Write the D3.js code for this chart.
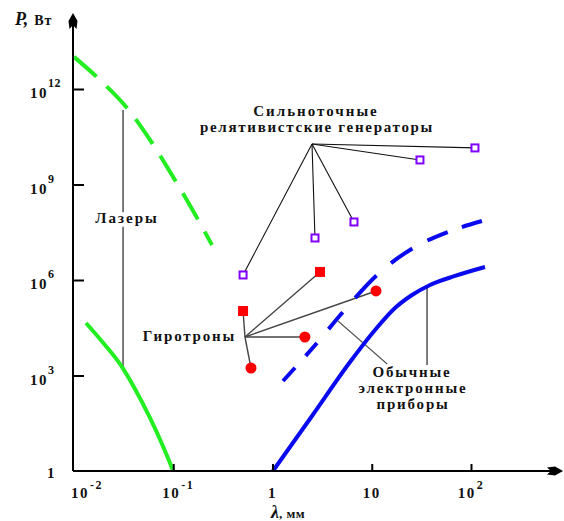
<!DOCTYPE html>
<html><head><meta charset="utf-8">
<script src="https://cdn.jsdelivr.net/npm/d3@7"></script>
<style>
body{margin:0;background:#fff}
svg text{font-family:"Liberation Serif","Times New Roman","DejaVu Serif",serif;font-weight:bold;fill:#111}
</style>
</head><body>
<svg id="c" width="564" height="521"></svg>
<script>
// ---- data (wavelength, mm ; power, W) ----
const laserHighX = [0.01, 0.01828, 0.0342, 0.05834, 0.0970, 0.1545, 0.2455];
const laserHighY = [1.02e13, 1.92e12, 2.54e11, 2.51e10, 1.99e9, 1.70e8, 1.26e7];
const laserLowX  = [0.01321, 0.02051, 0.02904, 0.04117, 0.05834, 0.07705, 0.1];
const laserLowY  = [4.47e4, 9.10e3, 2.30e3, 377, 46.3, 7.05, 1];
const elecX  = [1.01, 2.50, 6.04, 10.79, 17.14, 25.45, 38.65, 69.0, 138.4];
const elecY  = [1, 53.5, 2657, 2.69e4, 1.32e5, 3.38e5, 6.98e5, 1.34e6, 2.56e6];
const elecDashX = [1.276, 2.805, 5.13, 11.30, 26.06, 58.6, 129];
const elecDashY = [673, 1.05e4, 9.89e4, 1.44e6, 1.01e7, 3.23e7, 7.14e7];
const relX = [0.505, 2.68, 6.62, 30.6, 109.6];
const relY = [1.44e6, 2.09e7, 6.65e7, 5.90e9, 1.41e10];
const gyroSqX = [0.505, 3.01];
const gyroSqY = [1.06e5, 1.79e6];
const gyroCirX = [0.607, 2.12, 11.04];
const gyroCirY = [1.72e3, 1.62e4, 4.52e5];
const xTickValues = [0.01, 0.1, 1, 10, 100];
const xTickBase = ["10", "10", "1", "10", "10"];
const xTickExp  = ["-2", "-1", "", "", "2"];
const yTickValues = [1, 1e3, 1e6, 1e9, 1e12];
const yTickBase = ["1", "10", "10", "10", "10"];
const yTickExp  = ["", "3", "6", "9", "12"];

const FONT = "'Liberation Serif', 'Times New Roman', 'DejaVu Serif', serif";
const svg = d3.select("#c");
const x = d3.scaleLog().domain([0.01, 100]).range([74, 471]);
const y = d3.scaleLog().domain([1, 1e12]).range([471, 89]);
const zip = (a, b) => a.map((v, i) => [v, b[i]]);
const line = d3.line().x(d => x(d[0])).y(d => y(d[1])).curve(d3.curveMonotoneX);

// ---- leader lines (drawn beneath markers) ----
const lead = svg.append("g").attr("fill", "none");
const relHub = [2.50, 1.88e10];
relX.forEach((v, i) => lead.append("line")
  .attr("x1", x(relHub[0])).attr("y1", y(relHub[1]))
  .attr("x2", x(v)).attr("y2", y(relY[i]))
  .attr("stroke", "#111").attr("stroke-width", 1.1));
const gyroHub = [0.528, 1.62e4];
zip(gyroSqX, gyroSqY).concat(zip(gyroCirX, gyroCirY)).forEach(p => lead.append("line")
  .attr("x1", x(gyroHub[0])).attr("y1", y(gyroHub[1]))
  .attr("x2", x(p[0])).attr("y2", y(p[1]))
  .attr("stroke", "#444").attr("stroke-width", 1.4));
lead.append("line").attr("x1", x(0.0312)).attr("x2", x(0.0312))
  .attr("y1", y(2.19e11)).attr("y2", y(1.72e3)).attr("stroke", "#111").attr("stroke-width", 1.1);
lead.append("line").attr("x1", x(36.06)).attr("x2", x(36.06))
  .attr("y1", y(6.2e5)).attr("y2", y(2.14e3)).attr("stroke", "#111").attr("stroke-width", 1.1);
lead.append("line").attr("x1", x(4.57)).attr("y1", y(5.16e4))
  .attr("x2", x(14.3)).attr("y2", y(2.30e3)).attr("stroke", "#555").attr("stroke-width", 1.1);

// ---- curves ----
svg.append("path").attr("d", line(zip(laserHighX, laserHighY)))
  .attr("fill", "none").attr("stroke", "#22ee22").attr("stroke-width", 4)
  .attr("stroke-dasharray", "30,14");
svg.append("path").attr("d", line(zip(laserLowX, laserLowY)))
  .attr("fill", "none").attr("stroke", "#22ee22").attr("stroke-width", 4);
svg.append("path").attr("d", line(zip(elecX, elecY)))
  .attr("fill", "none").attr("stroke", "#0a0aee").attr("stroke-width", 4);
svg.append("path").attr("d", line(zip(elecDashX, elecDashY)))
  .attr("fill", "none").attr("stroke", "#0a0aee").attr("stroke-width", 4)
  .attr("stroke-dasharray", "18,16,17,18,22,19,31,19,26,17,22,15,21,40");

// ---- markers ----
svg.append("g").selectAll("rect").data(zip(relX, relY)).join("rect")
  .attr("x", d => x(d[0]) - 3.5).attr("y", d => y(d[1]) - 3.5)
  .attr("width", 7).attr("height", 7)
  .attr("fill", "#fff").attr("stroke", "#8000ff").attr("stroke-width", 2);
svg.append("g").selectAll("rect").data(zip(gyroSqX, gyroSqY)).join("rect")
  .attr("x", d => x(d[0]) - 5).attr("y", d => y(d[1]) - 5)
  .attr("width", 10).attr("height", 10).attr("fill", "#ff0000");
svg.append("g").selectAll("circle").data(zip(gyroCirX, gyroCirY)).join("circle")
  .attr("cx", d => x(d[0])).attr("cy", d => y(d[1])).attr("r", 5.5).attr("fill", "#ff0000");

// ---- axes ----
const ax = svg.append("g");
ax.append("line").attr("x1", 73).attr("x2", 552).attr("y1", 471).attr("y2", 471)
  .attr("stroke", "#000").attr("stroke-width", 2);
ax.append("line").attr("x1", 73).attr("x2", 73).attr("y1", 471).attr("y2", 22)
  .attr("stroke", "#000").attr("stroke-width", 2);
ax.append("path").attr("d", "M73,13 L77.5,21 L76.5,29 L73,25 L69.5,29 L68.5,21 Z").attr("fill", "#000");
ax.append("path").attr("d", "M563,471 L555,475.5 L547,474.5 L551,471 L547,467.5 L555,466.5 Z").attr("fill", "#000");

const xAxis = svg.append("g").attr("transform", "translate(0,471)")
  .call(d3.axisBottom(x).tickValues(xTickValues.slice(1)).tickSize(-7).tickFormat(""));
xAxis.select(".domain").remove();
xAxis.selectAll(".tick line").attr("stroke", "#000").attr("stroke-width", 2);

const yAxis = svg.append("g").attr("transform", "translate(73,0)")
  .call(d3.axisLeft(y).tickValues(yTickValues.slice(1)).tickSize(-11).tickFormat(""));
yAxis.select(".domain").remove();
yAxis.selectAll(".tick line").attr("stroke", "#000").attr("stroke-width", 2);

const T = (sel) => sel.append("text").attr("font-family", FONT).attr("font-weight", "bold").attr("fill", "#111");

// tick labels
const xShift = [13, 5, 0, 0, 0];
xTickValues.forEach((v, i) => {
  const t = T(svg).attr("x", x(v) + xShift[i]).attr("y", 498)
    .attr("text-anchor", "middle").attr("font-size", 15).attr("letter-spacing", 1.5);
  t.append("tspan").text(xTickBase[i]);
  if (xTickExp[i]) t.append("tspan").attr("dy", -9).attr("dx", 1).attr("font-size", 12).text(xTickExp[i]);
});
yTickValues.forEach((v, i) => {
  const t = T(svg).attr("x", i === 0 ? 47 : 30).attr("y", y(v) + (i === 0 ? 7 : 9))
    .attr("font-size", 15).attr("letter-spacing", 1.5);
  t.append("tspan").text(yTickBase[i]);
  if (yTickExp[i]) t.append("tspan").attr("dy", -11).attr("font-size", 12).attr("letter-spacing", 0.5).text(yTickExp[i]);
});

// axis titles
const pt = T(svg).attr("x", 15).attr("y", 25);
pt.append("tspan").attr("font-size", 18).attr("font-style", "italic").text("P,");
pt.append("tspan").attr("dx", 6).attr("font-size", 14).attr("letter-spacing", 1).text("Вт");
const lt = T(svg).attr("x", 271).attr("y", 518);
lt.append("tspan").attr("font-size", 18).attr("font-style", "italic").text("λ");
lt.append("tspan").attr("font-size", 13).attr("letter-spacing", 0.5).text(", мм");

// annotations
const label = (txt, px, py, anchor, ls) => T(svg).attr("x", px).attr("y", py)
  .attr("text-anchor", anchor).attr("font-size", 15).attr("letter-spacing", ls).text(txt);
label("Сильноточные", 316, 116, "middle", 2);
label("релятивистские генераторы", 317, 132, "middle", 1.7);
label("Лазеры", 127, 223, "middle", 2)
  .attr("stroke", "#fff").attr("stroke-width", 8).attr("paint-order", "stroke");
label("Гиротроны", 236, 341, "end", 1.8);
label("Обычные", 412, 377, "middle", 1.8);
label("электронные", 413, 393, "middle", 1.8);
label("приборы", 413, 409, "middle", 1.8);
</script>
</body></html>
